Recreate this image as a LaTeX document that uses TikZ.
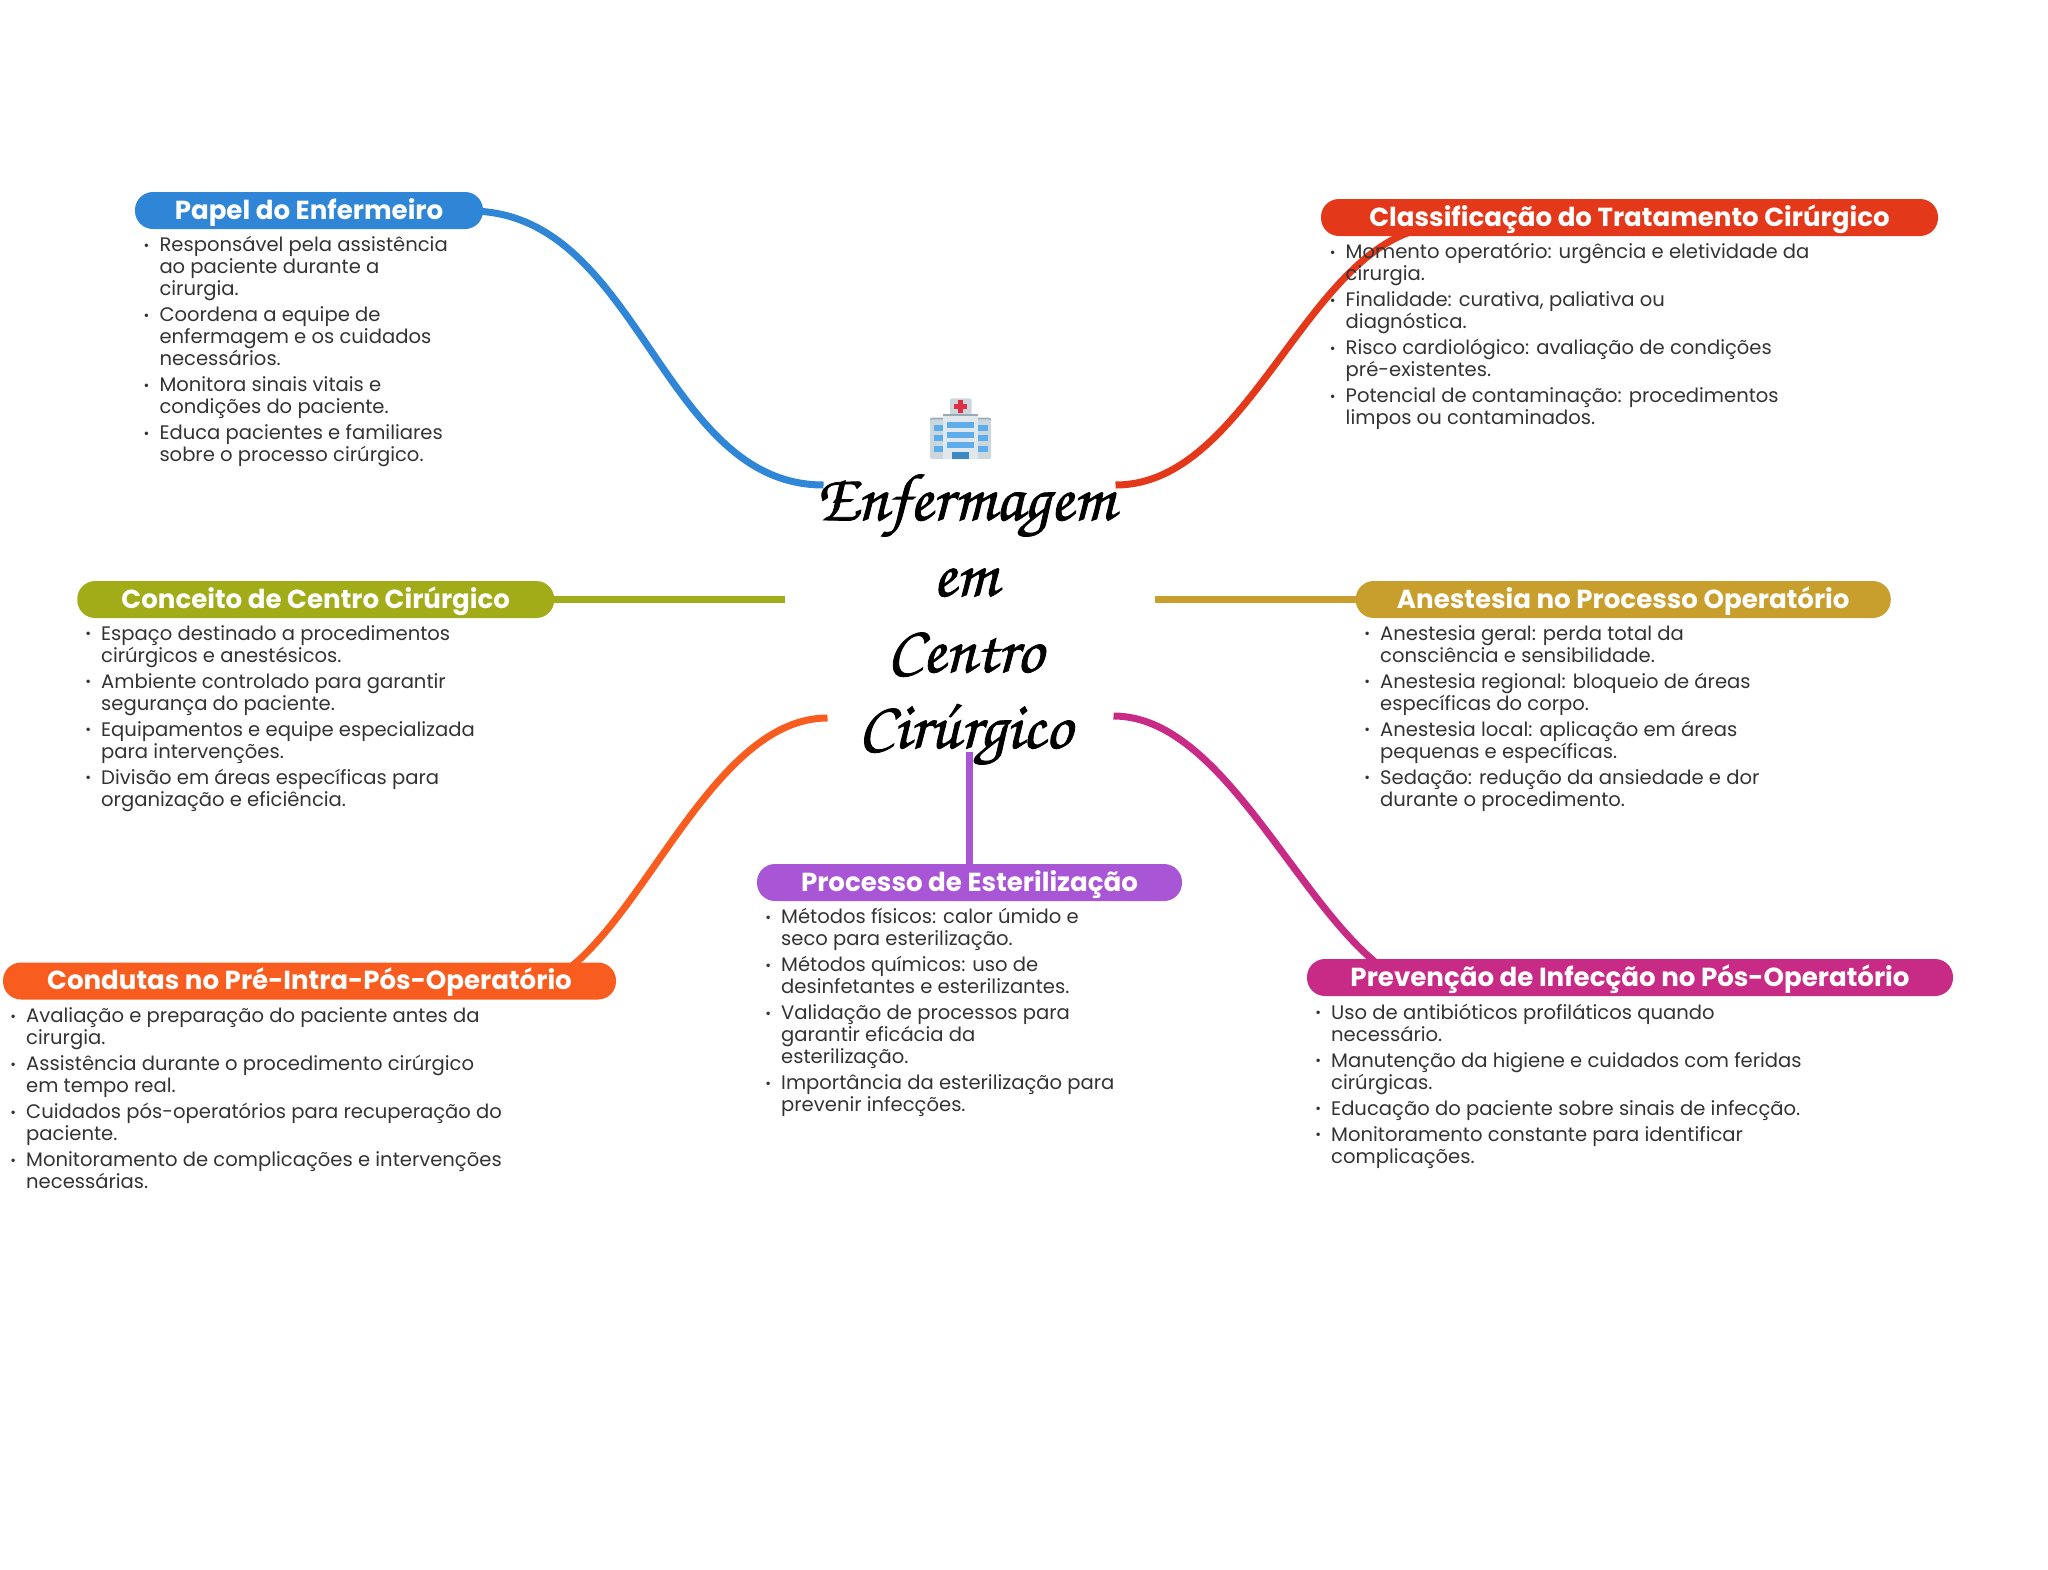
\documentclass[tikz,border=0pt]{standalone}
\usepackage{fontspec}
\setmainfont{Poppins}
\newfontfamily\scriptf[FakeBold=1.2]{TeX Gyre Chorus}
\definecolor{cblue}{HTML}{2F85D6}
\definecolor{cred}{HTML}{E33819}
\definecolor{colive}{HTML}{A2AC19}
\definecolor{cgold}{HTML}{C89F2C}
\definecolor{cpurple}{HTML}{A855D6}
\definecolor{corange}{HTML}{F85C1E}
\definecolor{cmagenta}{HTML}{C72B85}
\definecolor{ctext}{HTML}{333333}
\definecolor{hospback}{HTML}{CCD6DD}
\definecolor{hospfront}{HTML}{E1E8ED}
\definecolor{hosproof}{HTML}{99AAB5}
\definecolor{hospwin}{HTML}{5DADEC}
\definecolor{hospdoor}{HTML}{3B88C3}
\definecolor{hospcross}{HTML}{DD2E44}
\newcommand{\itemline}[1]{\hbox{\llap{\fontsize{14}{14}\selectfont\raisebox{1.5pt}{•}\hspace{10pt}}#1}}
\newcommand{\contline}[1]{\hbox{#1}}
\newcommand{\gapline}{\vskip 4pt}
\newcommand{\listbox}[1]{\vtop{\baselineskip=22pt\lineskiplimit=-100pt\relax #1}}
\pgfdeclarelayer{links}
\pgfsetlayers{links,main}
\tikzset{
  pill/.style={rectangle,rounded corners=18pt,fill=#1,text=white,inner sep=0pt,minimum height=37pt,
    text height=22.5pt,text depth=5.5pt,font=\fontsize{26.1}{30}\selectfont\bfseries},
  link/.style={draw=#1,line width=7pt,line cap=butt},
  listtext/.style={anchor=base west,inner sep=0pt,text=ctext,font=\fontsize{19.58}{22}\selectfont},
  titletext/.style={align=center,inner sep=0pt,font=\fontsize{67}{76}\selectfont\scriptf}
}
\begin{document}
\begin{tikzpicture}[x=1pt,y=-1pt]
\useasboundingbox (0,0) rectangle (2048,1569);
% pills
\node[pill=cblue,minimum width=348pt] (papel) at (309,210.5) {Papel do Enfermeiro};
\node[pill=cred,minimum width=617pt] (clas) at (1629.5,217.5) {Classificação do Tratamento Cirúrgico};
\node[pill=colive,minimum width=477pt] (conc) at (315.75,599.5) {Conceito de Centro Cirúrgico};
\node[pill=cgold,minimum width=535pt] (ane) at (1623.25,599.5) {Anestesia no Processo Operatório};
\node[pill=cpurple,minimum width=425pt] (proc) at (969.5,882.5) {Processo de Esterilização};
\node[pill=corange,minimum width=613pt] (cond) at (309.5,981) {Condutas no Pré-Intra-Pós-Operatório};
\node[pill=cmagenta,minimum width=646pt] (prev) at (1630,977.5) {Prevenção de Infecção no Pós-Operatório};
% free ends of the connectors, beside the central title
\coordinate (endBlue) at (823.5,485);
\coordinate (endRed) at (1115.5,485);
\coordinate (endOlive) at (784.5,599.5);
\coordinate (endGold) at (1155,599.5);
\coordinate (endOrange) at (827.5,718);
\coordinate (endMagenta) at (1113.5,716);
\coordinate (endPurple) at (969.5,751.5);
% connectors, painted beneath the pills and the lists
\begin{pgfonlayer}{links}
\draw[link=cblue] (papel.center) -- (470,211) .. controls (640,211) and (660,485) .. (endBlue);
\draw[link=cred] (clas.center) -- (1445,226) .. controls (1310,226) and (1255,485) .. (endRed);
\draw[link=colive] (conc.east) -- (endOlive);
\draw[link=cgold] (ane.west) -- (endGold);
\draw[link=cpurple] (proc.north) -- (endPurple);
\draw[link=corange] (cond.center) -- (515,990) .. controls (625,990) and (695,718) .. (endOrange);
\draw[link=cmagenta] (prev.center) -- (1440,990) .. controls (1325,990) and (1245,716) .. (endMagenta);
\end{pgfonlayer}
% lists
\node[listtext] (lpapel) at (159.3,251.8) {\listbox{%
\itemline{Responsável pela assistência}\contline{ao paciente durante a}\contline{cirurgia.}\gapline
\itemline{Coordena a equipe de}\contline{enfermagem e os cuidados}\contline{necessários.}\gapline
\itemline{Monitora sinais vitais e}\contline{condições do paciente.}\gapline
\itemline{Educa pacientes e familiares}\contline{sobre o processo cirúrgico.}}};
\node[listtext] (lclas) at (1345.5,258.6) {\listbox{%
\itemline{Momento operatório: urgência e eletividade da}\contline{cirurgia.}\gapline
\itemline{Finalidade: curativa, paliativa ou}\contline{diagnóstica.}\gapline
\itemline{Risco cardiológico: avaliação de condições}\contline{pré-existentes.}\gapline
\itemline{Potencial de contaminação: procedimentos}\contline{limpos ou contaminados.}}};
\node[listtext] (lconc) at (101,640.2) {\listbox{%
\itemline{Espaço destinado a procedimentos}\contline{cirúrgicos e anestésicos.}\gapline
\itemline{Ambiente controlado para garantir}\contline{segurança do paciente.}\gapline
\itemline{Equipamentos e equipe especializada}\contline{para intervenções.}\gapline
\itemline{Divisão em áreas específicas para}\contline{organização e eficiência.}}};
\node[listtext] (lane) at (1380,640.2) {\listbox{%
\itemline{Anestesia geral: perda total da}\contline{consciência e sensibilidade.}\gapline
\itemline{Anestesia regional: bloqueio de áreas}\contline{específicas do corpo.}\gapline
\itemline{Anestesia local: aplicação em áreas}\contline{pequenas e específicas.}\gapline
\itemline{Sedação: redução da ansiedade e dor}\contline{durante o procedimento.}}};
\node[listtext] (lproc) at (781,923.6) {\listbox{%
\itemline{Métodos físicos: calor úmido e}\contline{seco para esterilização.}\gapline
\itemline{Métodos químicos: uso de}\contline{desinfetantes e esterilizantes.}\gapline
\itemline{Validação de processos para}\contline{garantir eficácia da}\contline{esterilização.}\gapline
\itemline{Importância da esterilização para}\contline{prevenir infecções.}}};
\node[listtext] (lcond) at (26,1022.6) {\listbox{%
\itemline{Avaliação e preparação do paciente antes da}\contline{cirurgia.}\gapline
\itemline{Assistência durante o procedimento cirúrgico}\contline{em tempo real.}\gapline
\itemline{Cuidados pós-operatórios para recuperação do}\contline{paciente.}\gapline
\itemline{Monitoramento de complicações e intervenções}\contline{necessárias.}}};
\node[listtext] (lprev) at (1331,1019.3) {\listbox{%
\itemline{Uso de antibióticos profiláticos quando}\contline{necessário.}\gapline
\itemline{Manutenção da higiene e cuidados com feridas}\contline{cirúrgicas.}\gapline
\itemline{Educação do paciente sobre sinais de infecção.}\gapline
\itemline{Monitoramento constante para identificar}\contline{complicações.}}};
% central title
\node[titletext,anchor=base] (ctr) at (965,520) {\vtop{\baselineskip=76pt\lineskiplimit=-100pt\relax
\hbox to 0pt{\hss Enfermagem\hss}\hbox to 0pt{\hss em\hss}\hbox to 0pt{\hss Centro\hss}\hbox to 0pt{\hss Cirúrgico\hss}}};
% hospital emoji
\begin{scope}[shift={(780,370)},x=0.33333pt,y=-0.33333pt]
\fill[hospback,rounded corners=2pt] (510,85) rectangle (575,138);
\fill[hosproof,rounded corners=2pt] (450,143) rectangle (633,160);
\fill[hospback,rounded corners=2pt] (450,148) rectangle (633,267);
\fill[hosproof] (490,133) rectangle (595,145);
\fill[hospfront] (490,138) rectangle (595,267);
\fill[hospcross] (534,90) rectangle (549,130);
\fill[hospcross] (521,103) rectangle (562,117);
\foreach \yy in {165,195,227}{
  \fill[hospwin] (463,\yy) rectangle (490,\yy+18);
  \fill[hospwin] (595,\yy) rectangle (623,\yy+18);
}
\foreach \yy in {155,185,215}{
  \fill[hospwin] (502,\yy) rectangle (582,\yy+20);
}
\fill[hospdoor] (517,247) rectangle (568,267);
\end{scope}
\end{tikzpicture}
\end{document}
